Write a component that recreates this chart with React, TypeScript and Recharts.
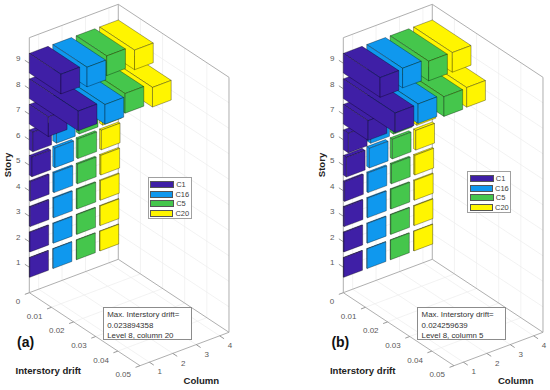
import { ScatterChart, Scatter, XAxis, YAxis, Legend } from 'recharts';

const stories = [1, 2, 3, 4, 5, 6, 7, 8, 9];
const columns = [1, 2, 3, 4];
const driftTicks = [0, 0.01, 0.02, 0.03, 0.04, 0.05];

const seriesNames = ['C1', 'C16', 'C5', 'C20'];
const seriesColors = ['#3f1fa6', '#0f98ee', '#45c64c', '#fff500'];

// peak drift per story, story 1 first
const c1A = [0.0002, 0.0003, 0.0004, 0.0005, 0.0012, 0.0016, 0.0086, 0.0221, 0.0143];
const c16A = [0.0002, 0.0003, 0.0004, 0.0006, 0.001, 0.0017, 0.004, 0.0236, 0.0155];
const c5A = [0.0002, 0.0003, 0.0004, 0.0006, 0.0008, 0.0014, 0.004, 0.0221, 0.0138];
const c20A = [0.0002, 0.0003, 0.0004, 0.0006, 0.0008, 0.0014, 0.004, 0.0239, 0.0158];

const c1B = [0.0002, 0.0003, 0.0004, 0.0006, 0.0014, 0.0023, 0.0112, 0.0234, 0.0166];
const c16B = [0.0002, 0.0003, 0.0004, 0.0006, 0.0012, 0.0018, 0.005, 0.0232, 0.0162];
const c5B = [0.0002, 0.0003, 0.0004, 0.0006, 0.001, 0.0015, 0.005, 0.0243, 0.0174];
const c20B = [0.0002, 0.0003, 0.0004, 0.0006, 0.001, 0.0015, 0.005, 0.024, 0.0175];

const noteA = ['Max. Interstory drift=', '0.023894358', 'Level 8, column 20'];
const noteB = ['Max. Interstory drift=', '0.024259639', 'Level 8, column 5'];

const W = 236;
const H = 390;
const COL_MIN = 0.6;
const COL_MAX = 4.4;
const DRIFT_MAX = 0.05;
const STORY_MAX = 10;
const FONT = '"Liberation Sans", Arial, sans-serif';

// oblique view of the 3D box on to the flat chart plane
function project(col: number, drift: number, story: number) {
  return {
    sx: 29.3 + (col - COL_MIN) * 23.42 + (drift / DRIFT_MAX) * 110.7,
    sy: 292.7 - story * 25.5 - (col - COL_MIN) * 8.79 + (drift / DRIFT_MAX) * 73,
  };
}

function segment(a: number[], b: number[], stroke: string) {
  const p = project(a[0], a[1], a[2]);
  const q = project(b[0], b[1], b[2]);
  return { ...p, dx: q.sx - p.sx, dy: q.sy - p.sy, stroke };
}

const GRID = '#ececec';
const FRAME = '#a6a6a6';
const TICK = '#8c8c8c';

const gridLines = [
  ...columns.flatMap((c) => [
    segment([c, 0, 0], [c, 0, STORY_MAX], GRID),
    segment([c, 0, 0], [c, DRIFT_MAX, 0], GRID),
  ]),
  ...driftTicks.slice(1, 5).flatMap((d) => [
    segment([COL_MIN, d, 0], [COL_MAX, d, 0], GRID),
    segment([COL_MAX, d, 0], [COL_MAX, d, STORY_MAX], GRID),
  ]),
  ...stories.flatMap((s) => [
    segment([COL_MIN, 0, s], [COL_MAX, 0, s], GRID),
    segment([COL_MAX, 0, s], [COL_MAX, DRIFT_MAX, s], GRID),
  ]),
];

const frameLines = [
  segment([COL_MIN, 0, 0], [COL_MIN, 0, STORY_MAX], FRAME),
  segment([COL_MAX, 0, 0], [COL_MAX, 0, STORY_MAX], FRAME),
  segment([COL_MAX, DRIFT_MAX, 0], [COL_MAX, DRIFT_MAX, STORY_MAX], FRAME),
  segment([COL_MIN, 0, STORY_MAX], [COL_MAX, 0, STORY_MAX], FRAME),
  segment([COL_MAX, 0, STORY_MAX], [COL_MAX, DRIFT_MAX, STORY_MAX], FRAME),
  segment([COL_MIN, 0, 0], [COL_MAX, 0, 0], FRAME),
  segment([COL_MAX, 0, 0], [COL_MAX, DRIFT_MAX, 0], FRAME),
  segment([COL_MIN, 0, 0], [COL_MIN, DRIFT_MAX, 0], FRAME),
  segment([COL_MIN, DRIFT_MAX, 0], [COL_MAX, DRIFT_MAX, 0], FRAME),
  ...stories.map((s) => segment([COL_MIN, 0, s], [COL_MIN, -0.002, s], TICK)),
  ...driftTicks.map((d) => segment([COL_MIN, d, 0], [COL_MIN - 0.19, d, 0], TICK)),
  ...columns.map((c) => segment([c, DRIFT_MAX, 0], [c, DRIFT_MAX + 0.002, 0], TICK)),
];

const tickLabels = [
  ...stories.map((s) => {
    const p = project(COL_MIN, 0, s);
    return { ...p, text: String(s), ox: -11, oy: -4.5, anchor: 'middle' };
  }),
  ...driftTicks.map((d) => {
    const p = project(COL_MIN, d, 0);
    return { ...p, text: String(d), ox: -9, oy: 9, anchor: 'end' };
  }),
  ...columns.map((c) => {
    const p = project(c, DRIFT_MAX, 0);
    return { ...p, text: String(c), ox: 10.4, oy: 9.8, anchor: 'middle' };
  }),
];

const LineShape = (props: any) => (
  <line
    x1={props.cx}
    y1={props.cy}
    x2={props.cx + props.dx}
    y2={props.cy + props.dy}
    stroke={props.stroke}
    strokeWidth={props.stroke === GRID ? 0.7 : 0.9}
  />
);

const LabelShape = (props: any) => (
  <text
    x={props.cx + props.ox}
    y={props.cy + props.oy}
    textAnchor={props.anchor}
    dominantBaseline="central"
    fontFamily={FONT}
    fontSize={8}
    fill="#595959"
  >
    {props.text}
  </text>
);

// one bar = top, low-column side and end face, anchored on its wall corner
const BAR_W = 0.4;
const BAR_H = 0.385;

const BarShape = (props: any) => {
  const { cx, cy, col, story, drift, fill } = props;
  const base = project(col - BAR_W, 0, story + BAR_H);
  const pt = (c: number, d: number, s: number) => {
    const p = project(c, d, s);
    return `${cx + p.sx - base.sx},${cy + p.sy - base.sy}`;
  };
  const l = col - BAR_W;
  const r = col + BAR_W;
  const t = story + BAR_H;
  const b = story - BAR_H;
  const faces = [
    [pt(l, 0, t), pt(r, 0, t), pt(r, drift, t), pt(l, drift, t)],
    [pt(l, 0, t), pt(l, drift, t), pt(l, drift, b), pt(l, 0, b)],
    [pt(l, drift, t), pt(r, drift, t), pt(r, drift, b), pt(l, drift, b)],
  ];
  return (
    <g>
      {faces.map((f, i) => (
        <polygon
          key={i}
          points={f.join(' ')}
          fill={fill}
          stroke="#000"
          strokeOpacity={0.55}
          strokeWidth={0.6}
          strokeLinejoin="round"
        />
      ))}
    </g>
  );
};

function barsFor(values: number[], col: number) {
  return values.map((drift, i) => ({
    ...project(col - BAR_W, 0, stories[i] + BAR_H),
    col,
    story: stories[i],
    drift,
  }));
}

const LegendBox = (props: any) => {
  const items = (props.payload || []).filter((p: any) => seriesNames.includes(p.value));
  const ordered = seriesNames.map((n) => items.find((p: any) => p.value === n)).filter(Boolean);
  return (
    <div
      style={{
        boxSizing: 'border-box',
        width: 44,
        height: 42,
        border: '1px solid #a0a0a0',
        background: '#fff',
        padding: '2px 1.5px',
        fontFamily: FONT,
        fontSize: 7.5,
        color: '#404040',
      }}
    >
      {ordered.map((it: any) => (
        <div key={it.value} style={{ display: 'flex', alignItems: 'center', height: 9.6 }}>
          <span
            style={{
              display: 'inline-block',
              width: 24,
              height: 7,
              background: it.color,
              border: '0.5px solid #555',
              boxSizing: 'border-box',
              marginRight: 2,
            }}
          />
          {it.value}
        </div>
      ))}
    </div>
  );
};

interface PanelProps {
  left: number;
  tag: string;
  values: number[][];
  note: string[];
  legendLeft: number;
  legendTop: number;
}

function Panel({ left, tag, values, note, legendLeft, legendTop }: PanelProps) {
  // columns drawn far to near, so each bar covers the ones behind it
  const order = [3, 2, 1, 0];
  return (
    <div style={{ position: 'absolute', left, top: 0, width: W, height: H }}>
      <ScatterChart width={W} height={H} margin={{ top: 0, right: 0, bottom: 0, left: 0 }}>
        <XAxis type="number" dataKey="sx" domain={[0, W]} hide />
        <YAxis type="number" dataKey="sy" domain={[0, H]} reversed hide />
        <Scatter data={gridLines} shape={LineShape} legendType="none" isAnimationActive={false} />
        <Scatter data={frameLines} shape={LineShape} legendType="none" isAnimationActive={false} />
        <Scatter data={tickLabels} shape={LabelShape} legendType="none" isAnimationActive={false} />
        {order.map((i) => (
          <Scatter
            key={seriesNames[i]}
            name={seriesNames[i]}
            data={barsFor(values[i], columns[i])}
            fill={seriesColors[i]}
            shape={BarShape}
            isAnimationActive={false}
          />
        ))}
        <Legend
          layout="vertical"
          align="center"
          verticalAlign="middle"
          content={LegendBox}
          wrapperStyle={{ left: legendLeft, top: legendTop, width: 44, height: 42 }}
        />
      </ScatterChart>
      <div
        style={{
          position: 'absolute',
          left: 102.7,
          top: 307.3,
          width: 89,
          height: 33,
          boxSizing: 'border-box',
          border: '1px solid #8c8c8c',
          background: '#fff',
          padding: '2px 0 0 3.5px',
          fontFamily: FONT,
          fontSize: 7.9,
          lineHeight: '10.3px',
          color: '#333',
          whiteSpace: 'nowrap',
        }}
      >
        {note.map((line) => (
          <div key={line}>{line}</div>
        ))}
      </div>
      <div style={{ ...titleStyle, left: 15.5, top: 365 }}>Interstory drift</div>
      <div style={{ ...titleStyle, left: 183.5, top: 375 }}>Column</div>
      <div style={{ ...titleStyle, left: -8, top: 159, width: 32, textAlign: 'center', transform: 'rotate(-90deg)' }}>
        Story
      </div>
      <div style={{ ...titleStyle, left: 17, top: 336, fontSize: 14, color: '#111' }}>{tag}</div>
    </div>
  );
}

const titleStyle: React.CSSProperties = {
  position: 'absolute',
  fontFamily: FONT,
  fontWeight: 'bold',
  fontSize: 9.6,
  lineHeight: '12px',
  color: '#222',
  whiteSpace: 'nowrap',
};

export default function App() {
  return (
    <div style={{ position: 'absolute', left: 0, top: 0, width: 550, height: 390, background: '#fff', overflow: 'hidden' }}>
      <Panel left={0} tag="(a)" values={[c1A, c16A, c5A, c20A]} note={noteA} legendLeft={147.7} legendTop={176.7} />
      <Panel left={314.4} tag="(b)" values={[c1B, c16B, c5B, c20B]} note={noteB} legendLeft={152.9} legendTop={171} />
    </div>
  );
}
